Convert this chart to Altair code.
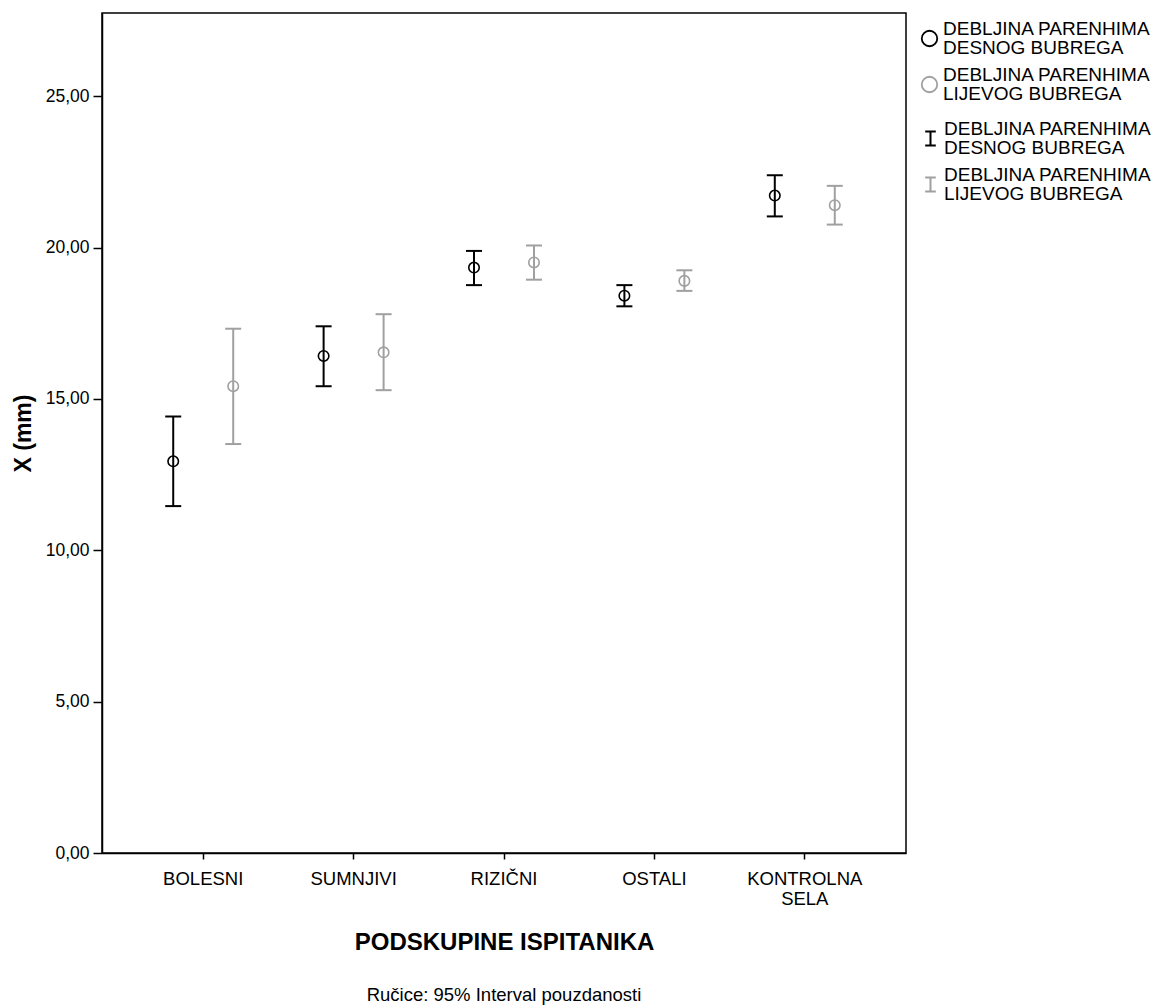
import altair as alt
import pandas as pd

categories = ["BOLESNI", "SUMNJIVI", "RIZIČNI", "OSTALI", "KONTROLNA SELA"]
series = ["DEBLJINA PARENHIMA\nDESNOG BUBREGA", "DEBLJINA PARENHIMA\nLIJEVOG BUBREGA"]

right_mean = [12.94, 16.42, 19.34, 18.41, 21.72]
right_lo = [11.46, 15.42, 18.76, 18.06, 21.03]
right_hi = [14.42, 17.40, 19.89, 18.76, 22.39]

left_mean = [15.42, 16.54, 19.51, 18.90, 21.40]
left_lo = [13.51, 15.29, 18.94, 18.57, 20.76]
left_hi = [17.32, 17.80, 20.07, 19.25, 22.04]

y_ticks = [0, 5, 10, 15, 20, 25]

rows = []
for s, (m, lo, hi) in zip(series, [(right_mean, right_lo, right_hi), (left_mean, left_lo, left_hi)]):
    for c, a, b, d in zip(categories, m, lo, hi):
        rows.append({"grupa": c, "serija": s, "mean": a, "lo": b, "hi": d})
df = pd.DataFrame(rows)

FONT = "Liberation Sans"
colors = ["#000000", "#a0a0a0"]

x_enc = alt.X(
    "grupa:N",
    sort=categories,
    scale=alt.Scale(paddingInner=0, paddingOuter=0.173),
    axis=alt.Axis(
        title="PODSKUPINE ISPITANIKA",
        titleFontSize=24,
        titleFontWeight="bold",
        titleFont=FONT,
        titleColor="#000",
        titlePadding=23,
        labelAngle=0,
        labelFontSize=18.5,
        labelFont=FONT,
        labelColor="#000",
        labelPadding=10,
        labelLineHeight=20,
        labelExpr="datum.label == 'KONTROLNA SELA' ? ['KONTROLNA', 'SELA'] : datum.label",
        tickSize=6,
        tickColor="#000",
        tickWidth=1.5,
        domainColor="#000",
        domainWidth=1.5,
        grid=False,
    ),
)
xo_enc = alt.XOffset(
    "serija:N",
    sort=series,
    scale=alt.Scale(paddingInner=0.507, paddingOuter=0.507),
)
y_axis = alt.Axis(
    title="X (mm)",
    titleFontSize=23,
    titleFontWeight="bold",
    titleFont=FONT,
    titleColor="#000",
    titlePadding=10,
    values=y_ticks,
    labelExpr="replace(format(datum.value, '.2f'), '.', ',')",
    labelFontSize=17.5,
    labelFont=FONT,
    labelColor="#000",
    labelPadding=4,
    tickSize=9,
    tickColor="#000",
    tickWidth=1.5,
    domainColor="#000",
    domainWidth=1.5,
    grid=False,
)
y_scale = alt.Scale(domain=[0, 27.75], nice=False)

legend_common = dict(
    title=None,
    orient="none",
    labelFont=FONT,
    labelFontSize=19,
    labelColor="#000",
    labelLimit=300,
    labelBaseline="line-bottom",
    labelExpr="split(datum.label, '\\n')",
    rowPadding=7,
    labelOffset=4,
    padding=0,
)

color_pts = alt.Color(
    "serija:N",
    sort=series,
    scale=alt.Scale(domain=series, range=colors),
    legend=alt.Legend(symbolType="circle", symbolSize=240, symbolStrokeWidth=1.8,
                      legendX=818, legendY=16, **legend_common),
)
err_legend = alt.Legend(
    symbolType="M-0.75,-1H0.75M0,-1V1M-0.75,1H0.75",
    symbolSize=200,
    symbolStrokeWidth=2,
    legendX=819, legendY=116,
    **legend_common,
)
color_err = alt.Color(
    "serija:N",
    sort=series,
    scale=alt.Scale(domain=series, range=colors),
    legend=err_legend,
)

base = alt.Chart(df)

points = base.mark_point(shape="circle", size=110, strokeWidth=1.6, filled=False, opacity=1).encode(
    x=x_enc, xOffset=xo_enc,
    y=alt.Y("mean:Q", scale=y_scale, axis=y_axis),
    color=color_pts,
)

rules = base.mark_rule(strokeWidth=2).encode(
    x=x_enc, xOffset=xo_enc,
    y=alt.Y("lo:Q", scale=y_scale, axis=y_axis),
    y2="hi:Q",
    color=color_err,
)
cap_lo = base.mark_tick(size=16, thickness=2, orient="horizontal", opacity=1).encode(
    x=x_enc, xOffset=xo_enc,
    y=alt.Y("lo:Q", scale=y_scale, axis=y_axis),
    color=color_err,
)
cap_hi = base.mark_tick(size=16, thickness=2, orient="horizontal", opacity=1).encode(
    x=x_enc, xOffset=xo_enc,
    y=alt.Y("hi:Q", scale=y_scale, axis=y_axis),
    color=color_err,
)

errbars = alt.layer(rules, cap_lo, cap_hi)

chart = (
    alt.layer(points, errbars)
    .resolve_scale(color="independent")
    .properties(
        width=804,
        height=840,
        view=alt.ViewBackground(stroke="#000000", strokeWidth=1.5, fill="white"),
        padding={"left": 102, "top": 13, "right": 256, "bottom": 153},
        autosize=alt.AutoSizeParams(type="none"),
        title=alt.TitleParams(
            text="Ručice: 95% Interval pouzdanosti",
            orient="bottom",
            anchor="middle",
            font=FONT,
            fontSize=18.5,
            fontWeight="normal",
            color="#000",
            offset=31,
        ),
    )
    .configure_view(stroke="#000000", strokeWidth=1.5)
    .configure(background="white", style={"guide-label": {"lineHeight": 19}})
)

chart.save("out.html", embed_options={"renderer": "svg", "actions": False})
